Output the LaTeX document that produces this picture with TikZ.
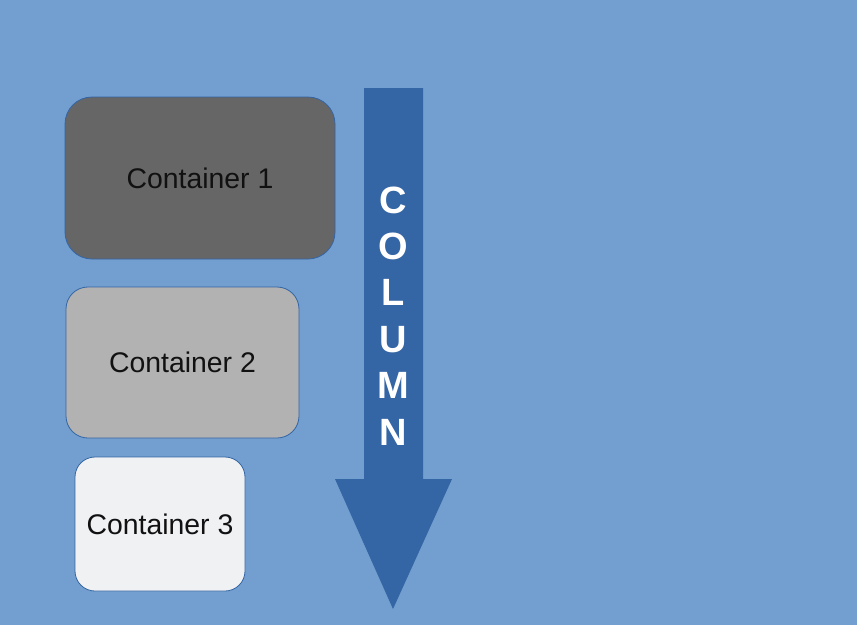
\documentclass[tikz,border=0pt]{standalone}
\usepackage{fontspec}
\setmainfont{Liberation Sans}
\definecolor{bg}{HTML}{729FCF}
\definecolor{arrowblue}{HTML}{3465A4}
\definecolor{boxdark}{HTML}{666666}
\definecolor{boxmid}{HTML}{B2B2B2}
\definecolor{boxlight}{HTML}{F0F1F3}
\definecolor{txt}{HTML}{111111}
\begin{document}
\begin{tikzpicture}[x=1pt,y=-1pt,
  cbox/.style={draw=arrowblue,line width=0.8pt,rectangle,inner sep=0pt,
    text=txt,font=\fontsize{28.4}{34}\selectfont},
  colletter/.style={text=white,font=\fontsize{38}{46}\selectfont\bfseries,inner sep=0pt}]
\fill[bg] (0,0) rectangle (857,625);
\useasboundingbox (0,0) rectangle (857,625);
% containers
\node[cbox,fill=boxdark,rounded corners=27pt,minimum width=270pt,minimum height=162pt] (c1) at (200,178) {Container 1};
\node[cbox,fill=boxmid,rounded corners=22pt,minimum width=233pt,minimum height=151pt] (c2) at (182.5,362.5) {Container 2};
\node[cbox,fill=boxlight,rounded corners=20pt,minimum width=170pt,minimum height=134pt] (c3) at (160,524) {Container 3};
% arrow
\fill[arrowblue] (364,88) -- (423,88) -- (423,479) -- (452,479) -- (393,609) -- (335,479) -- (364,479) -- cycle;
\foreach \l [count=\i from 0] in {C,O,L,U,M,N}
  \node[colletter] (L\i) at (393,{200+46.4*\i}) {\l};
\end{tikzpicture}
\end{document}
